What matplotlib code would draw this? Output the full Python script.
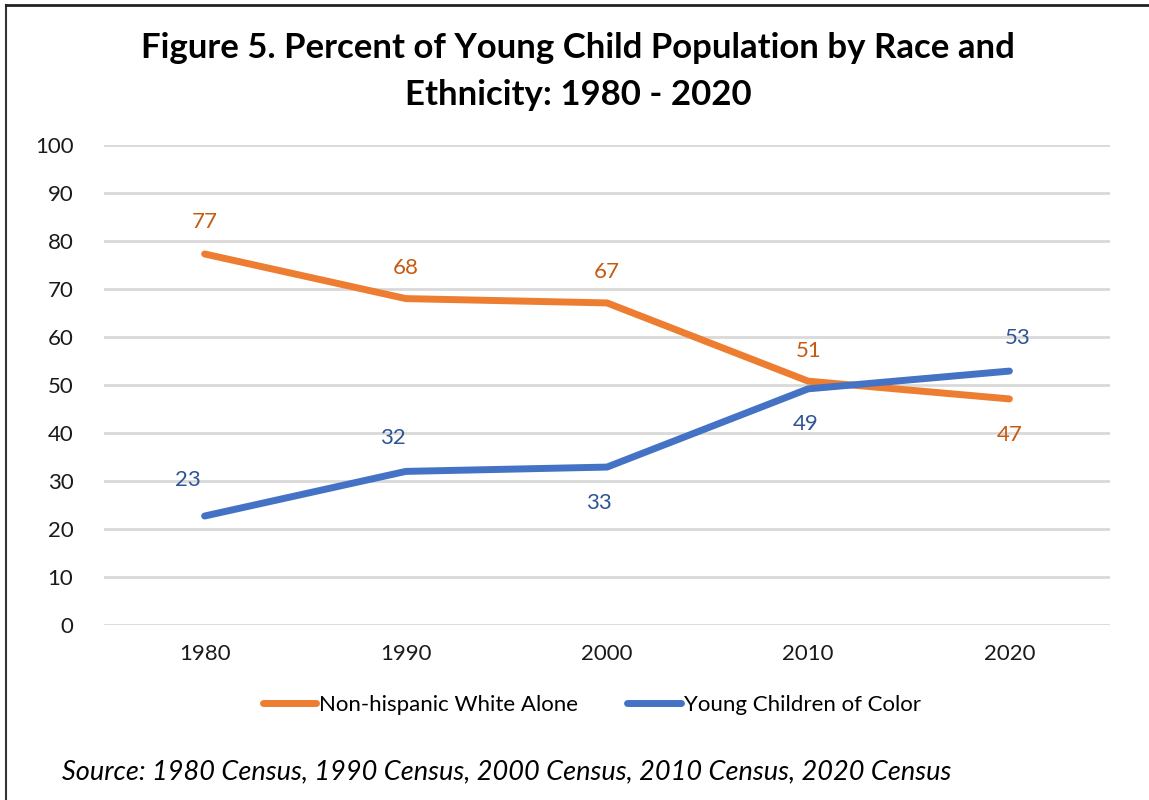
import matplotlib
matplotlib.use("Agg")
import matplotlib.pyplot as plt
from matplotlib.lines import Line2D

plt.rcParams['font.family'] = ['Lato', 'DejaVu Sans']

years = ["1980", "1990", "2000", "2010", "2020"]
white_alone = [77.3, 68.0, 67.1, 50.8, 47.1]
children_of_color = [22.7, 32.0, 32.9, 49.2, 52.9]
yticks = [0, 10, 20, 30, 40, 50, 60, 70, 80, 90, 100]

# label offsets in points (dx, dy) for each data label
white_offsets = [(0, 23), (0, 22), (0, 22), (0, 22), (0, -26)]
color_offsets = [(-12, 26), (-9, 24), (-6, -26), (-2, -25), (6, 24)]

orange = "#ED7D31"
blue = "#4472C4"
orange_txt = "#C55A11"
blue_txt = "#2F5597"

fig = plt.figure(figsize=(11.49, 8.0), dpi=100)
ax = fig.add_axes([104 / 1149, 1 - 625 / 800, 1006 / 1149, 480 / 800])

x = list(range(len(years)))
ax.plot(x, white_alone, color=orange, lw=5, solid_capstyle="round", solid_joinstyle="round", zorder=3)
ax.plot(x, children_of_color, color=blue, lw=5, solid_capstyle="round", solid_joinstyle="round", zorder=3)

for i, v in enumerate(white_alone):
    ax.annotate(f"{v:.0f}", (i, v), xytext=white_offsets[i], textcoords="offset points",
                ha="center", va="center", fontsize=16, color=orange_txt)
for i, v in enumerate(children_of_color):
    ax.annotate(f"{v:.0f}", (i, v), xytext=color_offsets[i], textcoords="offset points",
                ha="center", va="center", fontsize=16, color=blue_txt)

ax.set_xlim(-0.5, len(years) - 0.5)
ax.set_ylim(0, 100)
ax.set_yticks(yticks)
ax.set_xticks(x)
ax.set_xticklabels(years)
ax.grid(axis="y", color="#D9D9D9", lw=2)
ax.set_axisbelow(True)
for s in ax.spines.values():
    s.set_visible(False)
ax.tick_params(length=0, labelsize=16, colors="#1a1a1a")
ax.tick_params(axis="y", pad=22)
ax.tick_params(axis="x", pad=14)

fig.text(0.503, 1 - 48 / 800, "Figure 5. Percent of Young Child Population by Race and",
         ha="center", va="center", fontsize=25, fontweight="bold")
fig.text(0.503, 1 - 95 / 800, "Ethnicity: 1980 - 2020",
         ha="center", va="center", fontsize=25, fontweight="bold")

handles = [Line2D([], [], color=orange, lw=5, solid_capstyle="round"),
           Line2D([], [], color=blue, lw=5, solid_capstyle="round")]
fig.legend(handles, ["Non-hispanic White Alone", "Young Children of Color"],
           loc="center", bbox_to_anchor=(0.515, 1 - 705 / 800), ncol=2, frameon=False,
           fontsize=16, handlelength=2.4, handletextpad=0.15, columnspacing=2.2)

fig.text(62 / 1149, 1 - 772 / 800,
         "Source: 1980 Census, 1990 Census, 2000 Census, 2010 Census, 2020 Census",
         ha="left", va="center", fontsize=19.5, style="italic")

# frame along the top and left edges
fig.add_artist(Line2D([6 / 1149, 6 / 1149], [0, 1 - 5 / 800], color="#333333", lw=1.5))
fig.add_artist(Line2D([6 / 1149, 1], [1 - 5 / 800, 1 - 5 / 800], color="#222222", lw=2))

fig.savefig("out.png", dpi=100)
